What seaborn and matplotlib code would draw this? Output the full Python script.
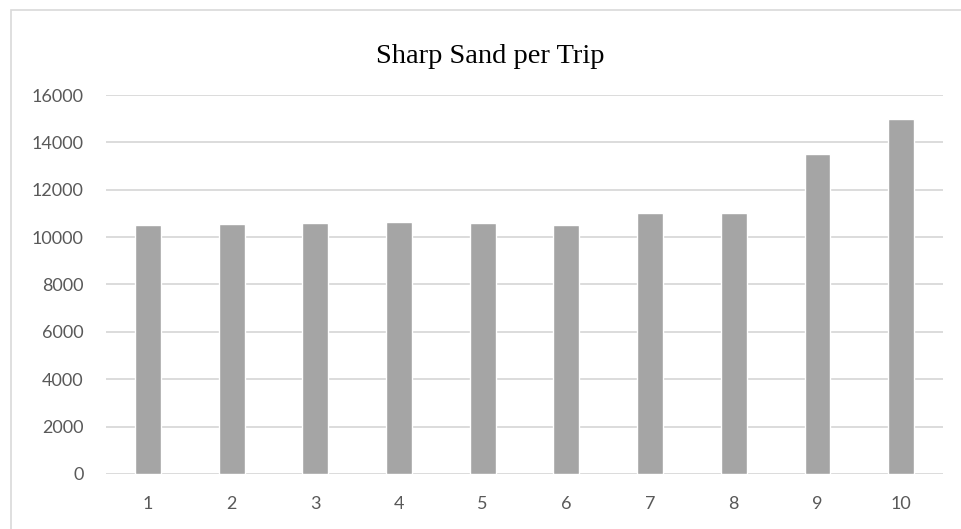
import matplotlib.pyplot as plt
import matplotlib.patches as mpatches
import seaborn as sns
import pandas as pd

trips = ['1', '2', '3', '4', '5', '6', '7', '8', '9', '10']
sand = [10500, 10550, 10600, 10650, 10600, 10500, 11000, 11000, 13500, 15000]

df = pd.DataFrame({'trip': trips, 'sand': sand})

sns.set_style('white')
plt.rcParams['font.family'] = ['Lato', 'DejaVu Sans']

fig = plt.figure(figsize=(9.61, 5.29), dpi=100)
ax = fig.add_axes([0.1103, 0.104, 0.871, 0.7164])

sns.barplot(data=df, x='trip', y='sand', color='#A5A5A5', width=0.31,
            saturation=1, ax=ax, zorder=3)

ax.set_ylim(0, 16000)
ax.set_yticks(range(0, 16001, 2000))
ax.set_xlim(-0.5, len(trips) - 0.5)
ax.grid(axis='y', color='#D9D9D9', linewidth=1.3, zorder=0)
ax.set_axisbelow(True)
for s in ax.spines.values():
    s.set_visible(False)
ax.tick_params(axis='both', length=0, labelsize=13, colors='#595959')
ax.tick_params(axis='y', pad=16)
ax.tick_params(axis='x', pad=16)
ax.set_xlabel('')
ax.set_ylabel('')

fig.text(0.51, 0.893, 'Sharp Sand per Trip', ha='center', va='center',
         fontsize=20.5, family='Liberation Serif', color='#000000')

# chart frame (only top and left edges fall inside the image)
frame = mpatches.Rectangle((11 / 961, -0.1), 1.2, 1 - 10 / 529 + 0.1,
                           transform=fig.transFigure, fill=False,
                           edgecolor='#D9D9D9', linewidth=1.2)
fig.add_artist(frame)

fig.savefig('out.png', dpi=100)
